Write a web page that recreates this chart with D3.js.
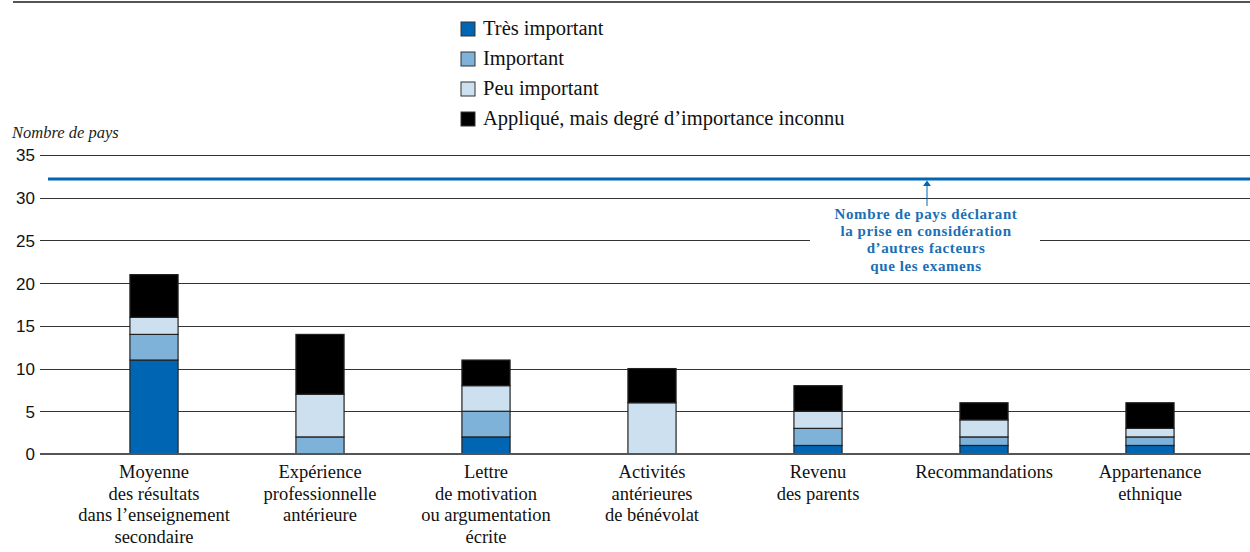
<!DOCTYPE html>
<html><head><meta charset="utf-8">
<script src="https://cdn.jsdelivr.net/npm/d3@7"></script>
<style>body{margin:0;background:#fff}svg{display:block}</style>
</head><body><svg id="c" width="1250" height="552"></svg>
<script>
const categories = [
  ["Moyenne","des résultats","dans l’enseignement","secondaire"],
  ["Expérience","professionnelle","antérieure"],
  ["Lettre","de motivation","ou argumentation","écrite"],
  ["Activités","antérieures","de bénévolat"],
  ["Revenu","des parents"],
  ["Recommandations"],
  ["Appartenance","ethnique"]
];
const seriesNames = ["Très important","Important","Peu important","Appliqué, mais degré d’importance inconnu"];
const tresImportant = [11,0,2,0,1,1,1];
const important     = [3,2,3,0,2,1,1];
const peuImportant  = [2,5,3,6,2,2,1];
const inconnu       = [5,7,3,4,3,2,3];
const otherFactors = 32.2;
const yTicks = [0,5,10,15,20,25,30,35];
const colors = ["#0066b3","#7fb2d9","#cce0ef","#000000"];
const SERIF = "'Liberation Serif', 'Times New Roman', serif";

const svg = d3.select("#c");
const y = d3.scaleLinear().domain([0,35]).range([454,155]);
const x = d3.scaleBand().domain(d3.range(categories.length)).range([71,1233]).paddingInner(0.71).paddingOuter(0.355);

svg.append("line").attr("x1",13).attr("x2",1250).attr("y1",2).attr("y2",2).attr("stroke","#555").attr("stroke-width",2);

svg.append("g").selectAll("line").data(yTicks.filter(d=>d>0)).join("line")
  .attr("x1",40).attr("x2",1250).attr("y1",d=>Math.round(y(d))+0.5).attr("y2",d=>Math.round(y(d))+0.5)
  .attr("stroke","#333").attr("stroke-width",1);

const yAxis = d3.axisLeft(y).tickValues(yTicks).tickSize(0).tickPadding(0);
const ga = svg.append("g").attr("transform","translate(35,0)").call(yAxis);
ga.select(".domain").remove();
ga.selectAll("text").attr("font-family","'Liberation Sans', Arial, sans-serif").attr("font-size",17).attr("fill","#111").attr("dy","0.35em");

svg.append("text").attr("x",12).attr("y",138).text("Nombre de pays")
  .attr("font-family",SERIF).attr("font-style","italic").attr("font-size",16.5).attr("fill","#222");

svg.append("rect").attr("x",810).attr("y",203).attr("width",230).attr("height",80).attr("fill","#fff");

const rows = categories.map((c,i)=>({i, v:[tresImportant[i],important[i],peuImportant[i],inconnu[i]]}));
const stack = d3.stack().keys([0,1,2,3]).value((d,k)=>d.v[k]);
const stacked = stack(rows);
svg.append("g").selectAll("g").data(stacked).join("g").attr("fill",(d,k)=>colors[k])
  .selectAll("rect").data(d=>d.filter(s=>s[1]>s[0]).map(s=>({s,i:s.data.i}))).join("rect")
  .attr("x",d=>x(d.i)).attr("width",x.bandwidth())
  .attr("y",d=>y(d.s[1])).attr("height",d=>y(d.s[0])-y(d.s[1]))
  .attr("stroke","#222").attr("stroke-width",1.2);

svg.append("line").attr("x1",40).attr("x2",1250).attr("y1",y(0)).attr("y2",y(0)).attr("stroke","#555").attr("stroke-width",2);

svg.append("line").attr("x1",48).attr("x2",1250).attr("y1",y(otherFactors)).attr("y2",y(otherFactors)).attr("stroke","#0066b3").attr("stroke-width",3);
svg.append("line").attr("x1",927).attr("x2",927).attr("y1",206).attr("y2",y(otherFactors)+6).attr("stroke","#0066b3").attr("stroke-width",1);
svg.append("path").attr("d",`M923,${y(otherFactors)+7}L927,${y(otherFactors)+1.5}L931,${y(otherFactors)+7}Z`).attr("fill","#0066b3");
const ann = ["Nombre de pays déclarant","la prise en considération","d’autres facteurs","que les examens"];
svg.append("g").selectAll("text").data(ann).join("text")
  .attr("x",926).attr("y",(d,i)=>219+i*17.2).attr("text-anchor","middle")
  .attr("font-family",SERIF).attr("font-weight","bold").attr("font-size",15).attr("letter-spacing",0.6)
  .attr("fill","#1a6fb5").text(d=>d);

const gl = svg.append("g");
categories.forEach((lines,i)=>{
  gl.append("g").selectAll("text").data(lines).join("text")
    .attr("x",x(i)+x.bandwidth()/2).attr("y",(d,j)=>478+j*21.7).attr("text-anchor","middle")
    .attr("font-family",SERIF).attr("font-size",18.5).attr("fill","#111").text(d=>d);
});

const lg = svg.append("g");
seriesNames.forEach((n,k)=>{
  const yy = 22+k*30;
  lg.append("rect").attr("x",461).attr("y",yy).attr("width",14).attr("height",14).attr("fill",colors[k]).attr("stroke","#333").attr("stroke-width",1);
  lg.append("text").attr("x",483).attr("y",yy+13).text(n).attr("font-family",SERIF).attr("font-size",20.5).attr("fill","#111");
});
</script></body></html>
